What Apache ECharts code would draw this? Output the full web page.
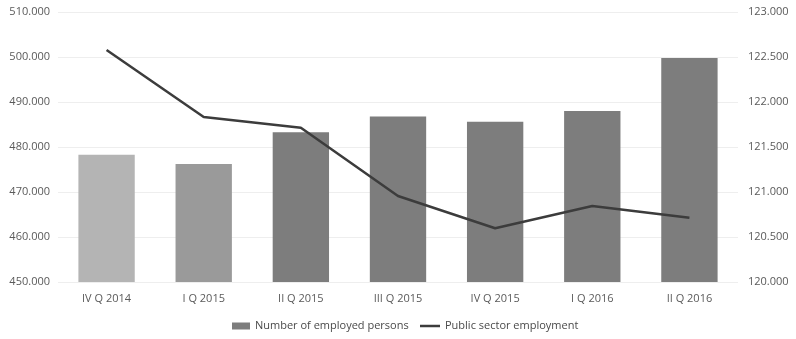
<!DOCTYPE html>
<html>
<head>
<meta charset="utf-8">
<script src="https://cdn.jsdelivr.net/npm/echarts@6/dist/echarts.min.js"></script>
<style>
  html, body { margin: 0; padding: 0; background: #fff; }
  #chart { width: 796px; height: 339px; }
</style>
</head>
<body>
<div id="chart"></div>
<script>
// Quarters shown on the category axis
const quarters = ['IV Q 2014', 'I Q 2015', 'II Q 2015', 'III Q 2015', 'IV Q 2015', 'I Q 2016', 'II Q 2016'];
// Number of employed persons (thousands), left axis
const employed = [478.3, 476.2, 483.3, 486.8, 485.6, 488.0, 499.8];
// Public sector employment (thousands), right axis
const publicSector = [122.578, 121.833, 121.714, 120.956, 120.597, 120.844, 120.714];
// Bar shades: the first two quarters are lighter
const barShades = ['#b4b4b4', '#9a9a9a', '#7d7d7d', '#7d7d7d', '#7d7d7d', '#7d7d7d', '#7d7d7d'];

const fmt = v => v.toFixed(3);
const fontFamily = 'Open Sans, Liberation Sans, sans-serif';
const labelStyle = { color: '#5a5a5a', fontSize: 11, fontFamily: fontFamily };
const legendText = { color: '#4a4a4a', fontSize: 11, fontFamily: fontFamily, lineHeight: 14 };

const chart = echarts.init(document.getElementById('chart'), null, { renderer: 'canvas' });
chart.setOption({
  animation: false,
  backgroundColor: '#fff',
  grid: { left: 58, right: 58, top: 12, bottom: 57 },
  legend: [
    {
      left: 227,
      top: 314,
      padding: 5,
      itemWidth: 18,
      itemHeight: 7,
      textStyle: legendText,
      data: [{ name: 'Number of employed persons', icon: 'rect' }]
    },
    {
      left: 415,
      top: 314,
      padding: 5,
      itemWidth: 20,
      itemHeight: 2.5,
      textStyle: legendText,
      data: [{ name: 'Public sector employment', icon: 'rect' }]
    }
  ],
  xAxis: {
    type: 'category',
    data: quarters,
    axisLine: { show: false },
    axisTick: { show: false },
    axisLabel: Object.assign({ margin: 11 }, labelStyle)
  },
  yAxis: [
    {
      type: 'value',
      min: 450, max: 510, interval: 10,
      axisLine: { show: false },
      axisTick: { show: false },
      splitLine: { lineStyle: { color: '#eeeeee', width: 1 } },
      axisLabel: Object.assign({ formatter: fmt, margin: 8 }, labelStyle)
    },
    {
      type: 'value',
      min: 120, max: 123, interval: 0.5,
      axisLine: { show: false },
      axisTick: { show: false },
      splitLine: { show: false },
      axisLabel: Object.assign({ formatter: fmt, margin: 10 }, labelStyle)
    }
  ],
  series: [
    {
      name: 'Number of employed persons',
      type: 'bar',
      yAxisIndex: 0,
      barWidth: '58%',
      itemStyle: { color: '#7d7d7d' },
      data: employed.map((v, i) => ({ value: v, itemStyle: { color: barShades[i] } }))
    },
    {
      name: 'Public sector employment',
      type: 'line',
      yAxisIndex: 1,
      showSymbol: false,
      symbol: 'none',
      lineStyle: { color: '#3c3c3c', width: 2.5 },
      itemStyle: { color: '#3c3c3c' },
      data: publicSector
    }
  ]
});
</script>
</body>
</html>
